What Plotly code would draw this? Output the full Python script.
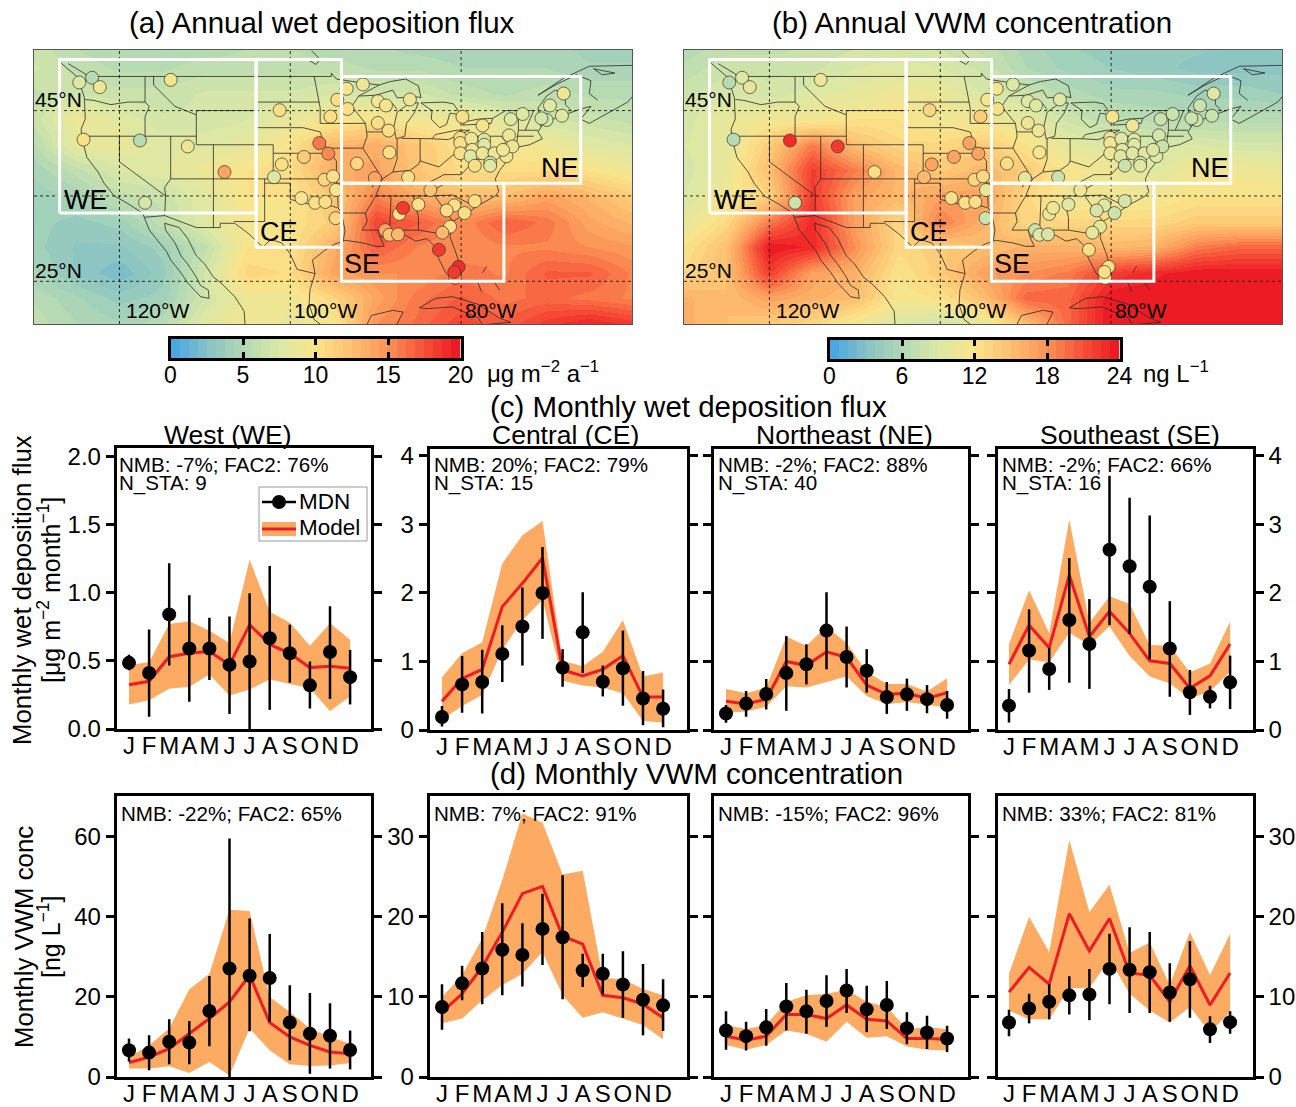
import plotly.graph_objects as go

W, H = 1296, 1107
FONT = "Liberation Sans"
RED = "#ed1c24"
BAND = "#fdaa63"
months = ["J", "F", "M", "A", "M", "J", "J", "A", "S", "O", "N", "D"]
mi = list(range(12))

# ---------- (c) monthly wet deposition ----------
c_we_mdn = [.485, .41, .84, .59, .59, .47, .495, .665, .555, .32, .565, .38]
c_we_hi = [.545, .73, 1.215, .98, .815, .825, .995, 1.195, .765, .495, .90, .58]
c_we_lo = [.43, .09, .465, .2, .36, .11, 0, .14, .34, .15, .22, .18]
c_we_mod = [.325, .35, .53, .555, .57, .47, .765, .62, .555, .45, .46, .445]
c_we_bh = [.47, .49, .77, .79, .72, .63, 1.24, .86, .78, .61, .775, .655]
c_we_bl = [.18, .21, .295, .31, .40, .245, .29, .365, .33, .30, .13, .24]

c_ce_mdn = [.19, .665, .70, 1.11, 1.51, 2.0, .91, 1.425, .705, .90, .46, .31]
c_ce_hi = [.35, 1.08, 1.17, 1.53, 2.08, 2.67, 1.18, 2.01, .94, 1.45, .86, .59]
c_ce_lo = [.05, .25, .24, .70, .94, 1.33, .63, .83, .49, .355, .07, .04]
c_ce_mod = [.42, .75, .885, 1.80, 2.14, 2.51, .875, .79, .885, 1.085, .48, .48]
c_ce_bh = [.77, 1.12, 1.28, 2.43, 2.84, 3.05, 1.01, .93, 1.14, 1.60, .78, .84]
c_ce_bl = [.15, .35, .51, 1.17, 1.6, 1.9, .72, .65, .62, .535, .13, .11]

c_ne_mdn = [.24, .385, .525, .83, .96, 1.45, 1.065, .865, .48, .52, .45, .365]
c_ne_hi = [.365, .57, .745, 1.37, 1.25, 2.01, 1.51, 1.18, .70, .75, .655, .57]
c_ne_lo = [.105, .195, .30, .28, .665, .885, .62, .545, .235, .28, .245, .165]
c_ne_mod = [.42, .38, .45, 1.0, .94, 1.14, 1.06, .655, .52, .535, .46, .545]
c_ne_bh = [.60, .535, .62, 1.36, 1.23, 1.51, 1.265, .85, .67, .67, .56, .755]
c_ne_bl = [.25, .27, .34, .64, .62, .705, .78, .495, .375, .41, .365, .33]

c_se_mdn = [.355, 1.16, .89, 1.605, 1.255, 2.63, 2.39, 2.09, 1.19, .55, .485, .695]
c_se_hi = [.60, 1.76, 1.20, 2.51, 1.91, 3.71, 3.39, 3.13, 1.88, .875, .645, 1.085]
c_se_lo = [.11, .545, .585, .69, .60, 1.53, 1.40, 1.03, .485, .22, .315, .305]
c_se_mod = [.96, 1.53, 1.20, 2.26, 1.36, 1.73, 1.41, 1.01, .97, .61, .79, 1.255]
c_se_bh = [1.255, 2.04, 1.41, 3.07, 1.56, 1.95, 1.84, 1.24, 1.23, .84, .97, 1.58]
c_se_bl = [.655, 1.03, .99, 1.42, 1.24, 1.51, 1.08, .78, .68, .46, .56, .85]

# ---------- (d) monthly VWM concentration ----------
d_we_mdn = [6.7, 6.1, 8.8, 8.6, 16.5, 27.1, 25.3, 24.75, 13.6, 10.8, 10.3, 6.75]
d_we_hi = [9.6, 10.4, 14.4, 14, 25.25, 59.6, 39.6, 35.7, 22.9, 21, 18.4, 11.6]
d_we_lo = [3.9, 1.7, 3.2, 3.2, 7.7, 0, 11.4, 13.75, 4.2, .8, 2.1, 1.9]
d_we_mod = [3.6, 5, 7.1, 10.8, 14.6, 18.75, 25.4, 13.6, 10, 7.9, 6.25, 5.8]
d_we_bh = [5, 7.9, 12.1, 21.9, 25.8, 41.8, 41.5, 20, 16.25, 12.1, 10, 8.3]
d_we_bl = [2.1, 2.1, 2.7, 1, 3.75, .4, 12.1, 6.7, 3.2, 2.75, 2.9, 3.5]

d_ce_mdn = [8.75, 11.7, 13.55, 15.9, 15.25, 18.5, 17.45, 13.3, 12.9, 11.55, 9.65, 8.95]
d_ce_hi = [11.6, 13.9, 18.1, 21.7, 19.2, 22.9, 25.2, 15.4, 15.4, 15.7, 14.1, 12.2]
d_ce_lo = [5.9, 9.6, 9.1, 10.2, 11.3, 14, 9.7, 11.25, 10.3, 7.4, 5.2, 5.75]
d_ce_mod = [8.1, 10.4, 13.75, 18.1, 22.9, 23.8, 17.6, 16.6, 10.2, 9.9, 9.1, 7.4]
d_ce_bh = [10, 12.7, 17.3, 24.6, 32.9, 31.75, 25.3, 25.75, 12.4, 12.2, 11, 10.2]
d_ce_bl = [6.7, 7.3, 9.6, 11.5, 12.9, 15.6, 10.2, 7.4, 8.1, 7.3, 6.5, 4.7]

d_ne_mdn = [5.8, 5.1, 6.2, 8.8, 8.2, 9.5, 10.8, 8.45, 9, 6.1, 5.55, 4.8]
d_ne_hi = [8.2, 6.9, 8.5, 11.75, 10.9, 12.7, 13.5, 11.4, 12, 8.1, 7.65, 6.4]
d_ne_lo = [3.4, 3.3, 3.9, 5.8, 5.4, 6.25, 8, 5.6, 6, 4.1, 3.5, 3.1]
d_ne_mod = [5.1, 4.6, 5.1, 7.8, 7.8, 7.3, 9, 7.2, 7, 4.8, 4.8, 4.7]
d_ne_bh = [6.5, 6, 6.5, 9.4, 10.2, 10.4, 10.9, 9.4, 8.75, 6, 6.2, 6]
d_ne_bl = [4, 3.4, 4, 5.8, 5.4, 4.4, 6.9, 4.9, 5.1, 3.8, 3.4, 3.3]

d_se_mdn = [6.8, 8.55, 9.4, 10.2, 10.3, 13.5, 13.4, 13.1, 10.55, 12.2, 5.95, 6.85]
d_se_hi = [8.4, 10.4, 11.6, 12.6, 13.5, 17.9, 18.7, 18.1, 14.2, 17, 7.6, 8.2]
d_se_lo = [5.1, 6.7, 7.2, 7.8, 7.1, 9.1, 8, 8, 6.9, 7.4, 4.25, 5.4]
d_se_mod = [10.6, 13.7, 11.6, 20.4, 15.75, 19.8, 13, 12.7, 9.4, 13.9, 9, 13]
d_se_bh = [12.9, 20, 15.6, 29.6, 20.6, 24, 15.5, 16.8, 11.5, 18.1, 12.7, 17.9]
d_se_bl = [8.3, 7.2, 7.2, 11.1, 11.1, 14.7, 10.4, 8.3, 6.8, 8.75, 5.6, 8.1]

# ---------- maps ----------
grid_lon = list(range(-130, -59, 5))
grid_lat = [20, 23, 26, 29, 32, 35, 38, 41, 44, 47, 50, 53]
flux_field = [
    [6, 5, 4.5, 5.5, 8, 9.5, 8.5, 9.5, 15, 16.5, 18, 17, 18.5, 19.5, 18.5],
    [5.5, 4.5, 3.5, 4, 7, 9, 9, 11, 14, 16, 17, 16, 16.5, 16, 15.5],
    [4.5, 3, 2, 3.5, 7, 11, 10.5, 14, 15, 15, 16, 15.5, 17, 17, 15.5],
    [4, 3, 3, 4, 6, 10, 10, 13.5, 17, 15.5, 15, 15.5, 15.5, 15, 14.5],
    [4, 3.5, 4, 6, 8, 9.5, 10, 11.5, 18, 17, 15, 17, 16, 14, 13],
    [4, 4.5, 6, 6.5, 8, 10, 10, 12, 15.5, 13.5, 12.5, 12.5, 14, 13, 11.5],
    [4.5, 6, 7.5, 8, 9, 10, 10.5, 13.5, 14, 12, 10.5, 10.5, 10.5, 10, 9],
    [5.5, 8.5, 8.5, 8, 8, 8.5, 10, 13, 13.5, 12, 10, 9.5, 9, 8, 7.5],
    [6.5, 9, 8, 7, 7, 7.5, 8.5, 9.5, 10, 9, 9, 8, 7, 6.5, 6],
    [6, 7, 6.5, 6.5, 7, 7, 7, 7.5, 7, 7, 6, 5.5, 6, 5.5, 5.5],
    [7, 6, 5.5, 5.5, 6, 6, 6, 6, 5.5, 5.5, 5, 5, 5, 4.5, 4.5],
    [6.5, 5.5, 5, 5, 5, 5.5, 5.5, 5, 5, 4.5, 4.5, 4.5, 4.5, 4, 4],
]
conc_field = [
    [16, 15, 14, 13, 11, 9, 8, 10, 15, 20, 24, 24, 24, 24, 24],
    [16, 15, 17, 16, 15, 11.5, 12, 15, 20, 20, 24, 24, 24, 24, 24],
    [13, 15, 22, 17, 16, 12, 14, 17, 18, 19, 22, 23, 24, 24, 24],
    [12, 15, 24, 23, 18, 13, 14, 15, 16, 16, 15.5, 16, 19, 20, 20],
    [10, 13, 19, 23, 17, 13, 19, 16, 13, 13, 13, 13, 14, 14, 14],
    [9, 11, 13.5, 22, 17, 15.5, 17, 17, 13, 11, 10.5, 11, 12, 12, 12],
    [8.5, 10.5, 15, 22, 19, 15.5, 14, 15.5, 14, 11.5, 11, 9.5, 11, 11, 10.5],
    [9, 10, 14, 19, 15, 13, 13, 14, 12, 10, 9, 9, 9, 8.5, 8.5],
    [8.5, 10.5, 11, 11, 12, 12, 11, 11, 10, 8, 7, 6.5, 6.5, 6.5, 6.5],
    [8, 9, 8.5, 9.5, 10, 11, 10.5, 9, 8, 6.5, 5.5, 5.5, 5, 5, 4.5],
    [7, 8, 8, 8, 9, 9.5, 9, 8, 6, 5, 4.5, 4, 3.5, 3.5, 3.5],
    [6, 7, 7, 7.5, 8, 8, 8, 7, 5.5, 4.5, 4, 4, 4, 3.5, 3.5],
]
site_lon = [-124.7, -123.2, -122.3, -114, -124.2, -117.6, -112, -107.7, -117,
            -101.25, -96.6, -95.55, -98.4, -101, -101.9, -96, -95, -94.65, -98.7, -97.1, -95.9, -94.7, -95.3,
            -93.4, -91.5, -94.5, -93.3, -89.75, -88.8, -86, -89.75, -88.5, -88.4, -92.2, -90.1, -86.2, -79.85,
            -77.5, -74.2, -72.8, -69.6, -68, -68.2, -70, -70.6, -74.4, -80.1, -80.1, -78.8, -77.3, -77.3, -78.7,
            -80.1, -78.9, -77.5, -76.1, -74.7, -74, -75.1, -78.4, -76.6, -76.6,
            -83.6, -87.25, -86.8, -85, -80.8, -81.7, -79.6, -78.4, -81.3, -82.2, -88.9, -88.4, -87.4, -82.6,
            -80.7, -80.3, -80.8]
site_lat = [48.3, 48.85, 47.75, 48.6, 41.6, 41.5, 40.8, 37.8, 34.2,
            45.05, 41.2, 39.96, 39.57, 38.7, 37.2, 36.9, 37.3, 35.7, 34.75, 34.2, 34.3, 32.4, 44.3,
            47.56, 48.07, 46.27, 45.2, 46.1, 45.6, 46.3, 43.56, 42.66, 40.1, 38.8, 37.1, 37.2, 44.27,
            43.25, 44, 44.6, 45.6, 47, 44.4, 43.9, 44.1, 42.1, 41.8, 41.2, 41.7, 41.6, 41, 40.4,
            40, 39.65, 40, 40, 39.65, 40.8, 40.4, 38.55, 38.9, 38.55,
            35.7, 32.9, 33.6, 34, 33.9, 33.3, 33, 34.4, 31.4, 30.7, 31, 30.45, 30.5, 28.7,
            25.4, 26.7, 26.1]
site_flux = [8, 5.5, 9, 9.5, 10.5, 5, 9, 14, 7,
             10.5, 16, 15.5, 11.5, 10, 7.5, 11, 10.5, 9.5, 9.5, 10.5, 10.5, 11, 10.5,
             9.5, 9, 10, 10.5, 9, 9.5, 9, 10, 10.5, 10.5, 11, 14, 10.5, 10,
             9.5, 8, 7.5, 8, 9, 7.5, 7, 7, 9, 10.5, 10, 9, 7.5, 7.5, 9,
             10, 7.5, 9, 9, 9, 9, 9, 10, 7, 8,
             12, 10.5, 18.5, 10.5, 10, 10, 10.5, 10, 10.5, 13, 14, 12, 13, 18.5,
             15, 19, 18.5]
site_conc = [6, 9, 10, 10.5, 6, 23, 22, 12, 7.5,
             13, 17, 16.5, 17, 16.5, 15.5, 13, 13, 10, 12, 12, 12, 8, 13.5,
             11.5, 9.5, 11.5, 12, 9, 9, 9.5, 11, 11, 11.5, 12, 10, 8, 11.5,
             10.5, 8, 8, 8, 9, 8, 8, 8, 8.5, 11, 10.5, 9, 9, 9, 10,
             11, 9, 9.5, 9, 9, 8, 9, 8, 8.5, 9,
             11, 11, 11, 9.5, 9, 8.5, 7.5, 8.5, 10, 10, 8, 9, 8.5, 12,
             13, 12, 12]

region_boxes = {
    "WE": [(-127, 33), (-127, 51), (-104, 51), (-104, 33), (-127, 33)],
    "CE": [(-104, 33), (-104, 51), (-94, 51), (-94, 29), (-104, 29), (-104, 33)],
    "NE": [(-94, 36.5), (-94, 49), (-66, 49), (-66, 36.5), (-94, 36.5)],
    "SE": [(-94, 36.5), (-94, 25), (-75, 25), (-75, 36.5), (-94, 36.5)],
}

geo_lines = [
    # coasts
    [(-124.7, 48.4), (-124.1, 46.5), (-124, 44), (-124.5, 42.8), (-124.2, 41), (-123.8, 39.5), (-122.5, 37.8), (-121.8, 36.5), (-120.6, 35), (-119, 34.1), (-117.3, 33), (-117.1, 32.5), (-116.5, 31), (-115.7, 30), (-114.5, 28.5), (-114, 27.5), (-112.8, 26), (-112, 24.8), (-110.5, 23.2), (-109.5, 23), (-109.6, 24), (-110.5, 24.5), (-111, 25.5), (-112, 27), (-112.8, 28), (-113.5, 29.5), (-114.6, 31), (-114.7, 31.8), (-113, 31.3), (-112, 30), (-111, 28), (-110, 27), (-109, 25.5), (-108, 24.7), (-106.5, 23.2), (-105.4, 21.5), (-105.3, 20)],
    [(-96.5, 20), (-97.2, 20.5), (-97.8, 22.3), (-97.7, 24), (-97.1, 25.9), (-97.4, 27.5), (-96, 28.6), (-94.7, 29.4), (-93.5, 29.8), (-91.5, 29.5), (-90, 29.1), (-89, 29.1), (-89.5, 30.2), (-88, 30.3), (-86.5, 30.4), (-85.3, 29.7), (-84, 30), (-83, 29), (-82.7, 27.8), (-81.8, 26), (-81, 25.2), (-80.4, 25.2), (-80, 26.5), (-80.6, 28.3), (-81.3, 30.2), (-81, 32), (-79.3, 33), (-77.8, 34), (-76, 35), (-75.6, 35.5), (-76, 37), (-75.5, 38), (-74.3, 39.5), (-74, 40.6), (-72, 41), (-70.5, 41.7), (-71, 42.5), (-70.3, 43.6), (-68.5, 44.3), (-67, 44.9), (-66, 45.2), (-64.8, 45.5), (-66, 44), (-65, 43.5), (-63, 44.6), (-60.5, 46), (-60, 46.6)],
    [(-64, 46.2), (-65, 47), (-64.8, 48.5), (-66.5, 49.2), (-69, 48), (-71, 46.8), (-68, 48.8), (-65, 50.2), (-60, 50.3)],
    [(-64.5, 49.9), (-62, 49.4), (-63.5, 49.2), (-64.5, 49.9)],
    [(-127, 50.7), (-125, 49), (-123.5, 48.4), (-124, 49.3), (-126, 50.5)],
    [(-91, 20), (-90.5, 21), (-88, 21.6), (-86.8, 21.4), (-87.5, 20)],
    [(-84.9, 21.9), (-83, 23), (-81, 23.2), (-78, 22.3), (-75.5, 20.7), (-74.2, 20.2), (-77.5, 19.9), (-78, 20.7), (-81, 22), (-84, 21.8), (-84.9, 21.9)],
    [(-78.2, 25.2), (-77.8, 24.2), (-77.6, 23.8)],
    [(-77, 26.8), (-77.5, 26)],
    [(-76.2, 25), (-75.5, 24)],
    # Great Lakes
    [(-92, 46.7), (-90, 46.8), (-88, 47.4), (-87.5, 46.5), (-85, 46.6), (-84.7, 46.5), (-85, 47.9), (-86.5, 48.7), (-88.3, 48.4), (-89.6, 48), (-92, 46.7)],
    [(-87.6, 41.7), (-87.9, 43), (-87.5, 44.8), (-86, 45.9), (-85, 45.9), (-85.5, 44.7), (-86.4, 43.5), (-86.6, 42), (-87.6, 41.7)],
    [(-84.7, 45.9), (-83.4, 45), (-83.5, 44), (-82.5, 43), (-81.7, 43.4), (-81.3, 44.7), (-80, 44.5), (-80.9, 45.8), (-82, 46), (-84.7, 45.9)],
    [(-83.4, 41.7), (-81.5, 41.6), (-79, 42.7), (-80.5, 42.7), (-83, 42.2), (-83.4, 41.7)],
    [(-79.8, 43.3), (-76.5, 43.5), (-76.3, 44.1), (-78, 44), (-79.5, 43.7), (-79.8, 43.3)],
    [(-98, 51), (-97, 50.4), (-96.5, 51), (-97.5, 52)],
    # borders
    [(-117.1, 32.5), (-114.7, 32.7), (-111, 31.3), (-108.2, 31.3), (-108.2, 31.8), (-106.5, 31.8), (-104.9, 30.6), (-103.2, 29), (-102.3, 29.9), (-101, 29.5), (-100, 28.2), (-99.2, 26.4), (-97.1, 25.9)],
    [(-123.3, 49), (-95.2, 49), (-95.2, 49.4), (-94.6, 48.7), (-92, 48.3), (-89.6, 48)],
    [(-124, 46.3), (-123, 46.2), (-121, 45.7), (-119, 46), (-117, 46)],
    [(-117, 49), (-117, 46), (-116.5, 45.5), (-117, 44.3), (-117, 42)],
    [(-124.2, 42), (-111, 42)],
    [(-120, 42), (-120, 39), (-114.6, 35), (-114.7, 32.7)],
    [(-114, 42), (-114, 37), (-114.7, 36), (-114.6, 35)],
    [(-114, 37), (-94.6, 37)],
    [(-116, 49), (-116, 48), (-114.5, 46.5), (-113.5, 45.5), (-111, 44.5)],
    [(-111, 45), (-104, 45), (-104, 41), (-111, 41), (-111, 45)],
    [(-109, 41), (-109, 31.3)],
    [(-102, 41), (-102, 37)],
    [(-104, 41), (-102, 41)],
    [(-103, 37), (-103, 32), (-106.6, 32)],
    [(-104, 49), (-104, 43)],
    [(-104, 46), (-96.6, 46)],
    [(-104, 43), (-98.5, 43), (-96.5, 42.5)],
    [(-102, 40), (-95.3, 40)],
    [(-103, 36.5), (-100, 36.5), (-100, 34.6), (-98, 34.1), (-95, 33.8), (-94.5, 33.6)],
    [(-97.2, 49), (-96.6, 46), (-96.5, 45.3), (-96.5, 43.5)],
    [(-96.5, 43.5), (-91.2, 43.5)],
    [(-95.8, 40.6), (-91.5, 40.6)],
    [(-96.5, 42.5), (-96, 41), (-95.3, 40), (-94.6, 39.1), (-94.6, 36.5)],
    [(-94.6, 36.5), (-90.2, 36.5), (-90.4, 36)],
    [(-94.5, 36.5), (-94.4, 33.6), (-94, 33), (-91.2, 33)],
    [(-94, 33), (-93.6, 31), (-93.8, 29.7)],
    [(-91.2, 43.5), (-91, 42), (-91.5, 40.6), (-90.5, 39), (-89.2, 37), (-90, 35), (-91.2, 33), (-91, 32), (-91.6, 31), (-89.7, 31), (-89.5, 30.2)],
    [(-88.2, 35), (-88.4, 30.3)],
    [(-85.6, 35), (-85, 32.5), (-85, 31)],
    [(-87.6, 30.4), (-87.6, 31), (-85, 31), (-82, 30.5), (-81.5, 30.7)],
    [(-90, 35), (-84.3, 35), (-81.7, 36.6)],
    [(-89.5, 36.5), (-81.7, 36.6), (-75.9, 36.6)],
    [(-84.3, 35), (-81, 35.1), (-78.6, 33.9)],
    [(-83.1, 35), (-81, 32.1)],
    [(-87.5, 41.7), (-87.5, 39.3), (-88, 37.8)],
    [(-89.2, 37), (-88, 37.8), (-86, 38), (-85, 38.7), (-84.8, 39.1), (-82.6, 38.4), (-80.7, 40), (-80.5, 40.6)],
    [(-84.8, 41.7), (-84.8, 39.1)],
    [(-87, 41.75), (-83.4, 41.7)],
    [(-80.5, 42), (-80.5, 39.7), (-75.8, 39.7)],
    [(-79.8, 42), (-75.3, 42), (-74.8, 41.4), (-75, 40.3), (-75.5, 39.8)],
    [(-91, 42.5), (-87.8, 42.5)],
    [(-92, 46.7), (-92.8, 45.5), (-91.2, 43.5)],
    [(-90.4, 46.6), (-88, 45.8), (-87.5, 45.1)],
    [(-82, 37.5), (-83.7, 36.6)],
    [(-82, 37.5), (-80, 37.5), (-78.3, 39.3), (-77.7, 39.3)],
    [(-76.3, 44.1), (-74.8, 45), (-71.5, 45), (-72.5, 42.7)],
    [(-73.3, 45), (-73.3, 42.7), (-73.5, 41.2)],
    [(-73.3, 42.7), (-71, 42.7)],
    [(-73.5, 42), (-71.5, 42)],
    [(-70.7, 43.1), (-71, 45.3), (-70, 46.7), (-69, 47.4), (-67.8, 47), (-67.8, 45.7), (-67, 44.9)],
]

# ---------- colour map ----------
anchors = [(0, (74, 168, 224)), (.125, (140, 196, 196)), (.25, (179, 217, 179)), (.375, (220, 232, 166)),
           (.5, (251, 228, 138)), (.625, (253, 193, 112)), (.75, (251, 150, 88)), (.875, (247, 86, 58)), (1, (237, 28, 36))]


def cmap(t):
    for (t0, c0), (t1, c1) in zip(anchors, anchors[1:]):
        if t <= t1:
            f = (t - t0) / (t1 - t0)
            return "rgb(%d,%d,%d)" % tuple(round(a + (b - a) * f) for a, b in zip(c0, c1))
    return "rgb(237,28,36)"


N_STEPS = 32
stepped = []
for i in range(N_STEPS):
    col = cmap(i / (N_STEPS - 1))
    stepped += [[i / N_STEPS, col], [(i + 1) / N_STEPS, col]]


def xd(a, b):
    return [a / W, b / W]


def yd(top, bot):
    return [1 - bot / H, 1 - top / H]


fig = go.Figure()
annots = []
shapes = []


def label(px, py, text, size=20, xanchor="center", angle=0):
    if xanchor == "left":
        px -= 2
    annots.append(dict(xref="paper", yref="paper", x=px / W, y=1 - py / H, text=text, showarrow=False,
                       xanchor=xanchor, yanchor="middle", textangle=angle,
                       font=dict(family=FONT, size=size, color="black")))


layout_axes = {}


def draw_map(n, x0, field, coloraxis, sites, frame_shift):
    xa, ya = ("x", "y") if n == 1 else (f"x{n}", f"y{n}")
    xn, yn = ("xaxis", "yaxis") if n == 1 else (f"xaxis{n}", f"yaxis{n}")
    layout_axes[xn] = dict(domain=xd(x0, x0 + 598), range=[-130, -60], anchor=ya, showgrid=False, zeroline=False,
                           showticklabels=False, ticks="", showline=True, mirror=True, linecolor="#555", linewidth=1)
    layout_axes[yn] = dict(domain=yd(50, 324), range=[20, 52.1], anchor=xa, showgrid=False, zeroline=False,
                           showticklabels=False, ticks="", showline=True, mirror=True, linecolor="#555", linewidth=1)
    fig.add_trace(go.Heatmap(x=grid_lon, y=grid_lat, z=field, coloraxis=coloraxis, zsmooth="best", xaxis=xa, yaxis=ya))
    gx, gy = [], []
    for line in geo_lines:
        gx += [p[0] for p in line] + [None]
        gy += [p[1] for p in line] + [None]
    fig.add_trace(go.Scatter(x=gx, y=gy, mode="lines", line=dict(color="#2a2a2a", width=0.8), xaxis=xa, yaxis=ya,
                             showlegend=False, hoverinfo="skip"))
    for lat in (25, 35, 45):
        fig.add_trace(go.Scatter(x=[-130, -60], y=[lat, lat], mode="lines", xaxis=xa, yaxis=ya, showlegend=False,
                                 line=dict(color="black", width=0.8, dash="3px,3px")))
    for lon in (-120, -100, -80):
        fig.add_trace(go.Scatter(x=[lon, lon], y=[20, 52.1], mode="lines", xaxis=xa, yaxis=ya, showlegend=False,
                                 line=dict(color="black", width=0.8, dash="3px,3px")))
    fig.add_trace(go.Scatter(x=site_lon, y=site_lat, mode="markers", xaxis=xa, yaxis=ya, showlegend=False,
                             marker=dict(size=13, color=sites, coloraxis=coloraxis,
                                         line=dict(color="#333", width=0.7))))
    for box in region_boxes.values():
        fig.add_trace(go.Scatter(x=[p[0] for p in box], y=[p[1] for p in box], mode="lines", xaxis=xa, yaxis=ya,
                                 showlegend=False, line=dict(color="white", width=3)))
    s = frame_shift
    label(58 + s, 100, "45°N", 21)
    label(58 + s, 270, "25°N", 21)
    label(157 + s, 311, "120°W", 21)
    label(325 + s, 311, "100°W", 21)
    label(491 + s, 311, "80°W", 21)
    label(86 + s, 200, "WE", 27)
    label(279 + s, 232, "CE", 27)
    label(560 + s, 168, "NE", 27)
    label(362 + s, 264, "SE", 27)


draw_map(1, 34, flux_field, "coloraxis", site_flux, 0)
draw_map(2, 684, conc_field, "coloraxis2", site_conc, 650)


def key_bar(n, x0, top, vmax, ticks):
    """Colour key: one row of stepped levels, on its own axes."""
    xa, ya = f"x{n}", f"y{n}"
    step = vmax / N_STEPS
    centers = [step * (i + .5) for i in range(N_STEPS)]
    fig.add_trace(go.Heatmap(x=centers, y=[0, 1], z=[centers, centers], zmin=0, zmax=vmax, colorscale=stepped,
                             showscale=False, xaxis=xa, yaxis=ya, hoverinfo="skip"))
    layout_axes[f"xaxis{n}"] = dict(domain=xd(x0 + 1.5, x0 + 291.5), range=[0, vmax], anchor=ya, tickmode="array",
                                    tickvals=ticks, ticktext=[str(t) for t in ticks], ticks="inside", ticklen=6,
                                    tickwidth=2.5, tickcolor="black", showline=True, mirror="ticks", linecolor="black",
                                    linewidth=2.5, showgrid=False, zeroline=False, ticklabelstandoff=-5,
                                    tickfont=dict(family=FONT, size=23, color="black"))
    layout_axes[f"yaxis{n}"] = dict(domain=yd(top + 1, top + 20), range=[-.5, 1.5], anchor=xa, showticklabels=False,
                                    ticks="", showline=True, mirror=True, linecolor="black", linewidth=2.5,
                                    showgrid=False, zeroline=False)


key_bar(11, 169, 338, 20, [0, 5, 10, 15, 20])
key_bar(12, 828, 339, 24, [0, 6, 12, 18, 24])

panel_x = [(115, 372, 129), (428, 688, 442), (712, 969, 726), (996, 1254, 1009)]
c_data = [(c_we_mdn, c_we_hi, c_we_lo, c_we_mod, c_we_bh, c_we_bl),
          (c_ce_mdn, c_ce_hi, c_ce_lo, c_ce_mod, c_ce_bh, c_ce_bl),
          (c_ne_mdn, c_ne_hi, c_ne_lo, c_ne_mod, c_ne_bh, c_ne_bl),
          (c_se_mdn, c_se_hi, c_se_lo, c_se_mod, c_se_bh, c_se_bl)]
d_data = [(d_we_mdn, d_we_hi, d_we_lo, d_we_mod, d_we_bh, d_we_bl),
          (d_ce_mdn, d_ce_hi, d_ce_lo, d_ce_mod, d_ce_bh, d_ce_bl),
          (d_ne_mdn, d_ne_hi, d_ne_lo, d_ne_mod, d_ne_bh, d_ne_bl),
          (d_se_mdn, d_se_hi, d_se_lo, d_se_mod, d_se_bh, d_se_bl)]


def panel(n, col, top, bot, data, ymax, tickvals, ticktext, side, showlabels):
    x0, x1, xj = panel_x[col]
    x0 += 1.5
    x1 -= 1
    step = 20.1
    xa, ya = f"x{n}", f"y{n}"
    layout_axes[f"xaxis{n}"] = dict(domain=xd(x0, x1), range=[(x0 - xj) / step, (x1 - xj) / step], anchor=ya,
                                    tickmode="array", tickvals=mi, ticktext=months, ticks="", showgrid=False,
                                    zeroline=False, showline=True, mirror=True, linecolor="black", linewidth=2.5,
                                    tickfont=dict(family=FONT, size=24, color="black"), tickangle=0,
                                    ticklabelstandoff=-7)
    layout_axes[f"yaxis{n}"] = dict(domain=yd(top, bot), range=[0, ymax], anchor=xa, side=side, tickmode="array",
                                    tickvals=tickvals, ticktext=ticktext, ticks="outside", ticklen=8, tickwidth=2.5,
                                    tickcolor="black", showgrid=False, zeroline=False, showline=True, mirror="ticks",
                                    linecolor="black", linewidth=2.5, showticklabels=showlabels,
                                    tickfont=dict(family=FONT, size=24, color="black"))
    mdn, hi, lo, mod, bh, bl = data
    fig.add_trace(go.Scatter(x=mi, y=bl, mode="lines", line=dict(width=0, color=BAND), xaxis=xa, yaxis=ya,
                             showlegend=False))
    fig.add_trace(go.Scatter(x=mi, y=bh, mode="lines", line=dict(width=0, color=BAND), fill="tonexty", fillcolor=BAND,
                             xaxis=xa, yaxis=ya, showlegend=False))
    fig.add_trace(go.Scatter(x=mi, y=mod, mode="lines", line=dict(width=3, color=RED), xaxis=xa, yaxis=ya,
                             showlegend=False))
    fig.add_trace(go.Scatter(x=mi, y=mdn, mode="markers", xaxis=xa, yaxis=ya, showlegend=False,
                             marker=dict(size=14, color="black"),
                             error_y=dict(type="data", symmetric=False,
                                          array=[h - m for h, m in zip(hi, mdn)],
                                          arrayminus=[m - l for m, l in zip(mdn, lo)],
                                          thickness=2.5, width=0, color="black")))


c_ticks4 = [0, 1, 2, 3, 4]
d_ticks = [0, 10, 20, 30]
panel(3, 0, 448, 729, c_data[0], 2.06, [0, .5, 1, 1.5, 2], ["0.0", "0.5", "1.0", "1.5", "2.0"], "left", True)
panel(4, 1, 449, 730, c_data[1], 4.10, c_ticks4, [str(t) for t in c_ticks4], "left", True)
panel(5, 2, 449, 730, c_data[2], 4.10, c_ticks4, [str(t) for t in c_ticks4], "left", False)
panel(6, 3, 449, 730, c_data[3], 4.10, c_ticks4, [str(t) for t in c_ticks4], "right", True)
panel(7, 0, 796, 1077, d_data[0], 70.2, [0, 20, 40, 60], ["0", "20", "40", "60"], "left", True)
panel(8, 1, 796, 1077, d_data[1], 35.1, d_ticks, [str(t) for t in d_ticks], "left", True)
panel(9, 2, 796, 1077, d_data[2], 35.1, d_ticks, [str(t) for t in d_ticks], "left", False)
panel(10, 3, 796, 1077, d_data[3], 35.1, d_ticks, [str(t) for t in d_ticks], "right", True)

# titles
label(322, 23, "(a) Annual wet deposition flux", 29.5)
label(972, 23, "(b) Annual VWM concentration", 29.5)
label(688, 407, "(c) Monthly wet deposition flux", 29.5)
label(696, 773, "(d) Monthly VWM concentration", 29.5)
for px, t in zip((228, 565, 845, 1130), ("West (WE)", "Central (CE)", "Northeast (NE)", "Southeast (SE)")):
    label(px, 435, t, 26.5)
label(487, 372, "μg m<sup>−2</sup> a<sup>−1</sup>", 24, "left")
label(1143, 372, "ng L<sup>−1</sup>", 24, "left")

for px, t, t2 in ((119, "NMB: -7%; FAC2: 76%", "N_STA: 9"), (434, "NMB: 20%; FAC2: 79%", "N_STA: 15"),
                  (718, "NMB: -2%; FAC2: 88%", "N_STA: 40"), (1002, "NMB: -2%; FAC2: 66%", "N_STA: 16")):
    label(px, 464, t, 20.6, "left")
    label(px, 483, t2, 20.6, "left")
for px, t in ((121, "NMB: -22%; FAC2: 65%"), (434, "NMB: 7%; FAC2: 91%"), (718, "NMB: -15%; FAC2: 96%"),
              (1002, "NMB: 33%; FAC2: 81%")):
    label(px, 813, t, 20.6, "left")

label(22, 590, "Monthly wet deposition flux", 25.8, angle=-90)
label(49, 590, "[μg m<sup>−2</sup> month<sup>−1</sup>]", 25, angle=-90)
label(24, 937, "Monthly VWM conc", 25.8, angle=-90)
label(49, 937, "[ng L<sup>−1</sup>]", 25, angle=-90)


# legend key in the first panel
def pshape(kind, x0, y0, x1, y1, **kw):
    shapes.append(dict(type=kind, xref="paper", yref="paper", x0=x0 / W, x1=x1 / W, y0=1 - y0 / H, y1=1 - y1 / H, **kw))


pshape("rect", 259, 487, 367, 541, line=dict(color="#999", width=1), fillcolor="white")
pshape("line", 262, 502, 296, 502, line=dict(color="black", width=2.5))
pshape("circle", 272, 495, 286, 509, line=dict(width=0), fillcolor="black")
pshape("rect", 262, 522, 296, 536, line=dict(width=0), fillcolor=BAND)
pshape("line", 262, 529, 296, 529, line=dict(color=RED, width=3))
label(299, 501, "MDN", 22.5, "left")
label(299, 528, "Model", 22.5, "left")

fig.update_layout(
    width=W, height=H, margin=dict(l=0, r=0, t=0, b=0, autoexpand=False), paper_bgcolor="white", plot_bgcolor="white",
    showlegend=False, annotations=annots, shapes=shapes,
    font=dict(family=FONT, color="black"),
    coloraxis=dict(cmin=0, cmax=20, colorscale=stepped, showscale=False),
    coloraxis2=dict(cmin=0, cmax=24, colorscale=stepped, showscale=False),
    **layout_axes,
)
fig.write_html("out.html", config=dict(displayModeBar=False), post_script="document.body.style.margin='0';")
